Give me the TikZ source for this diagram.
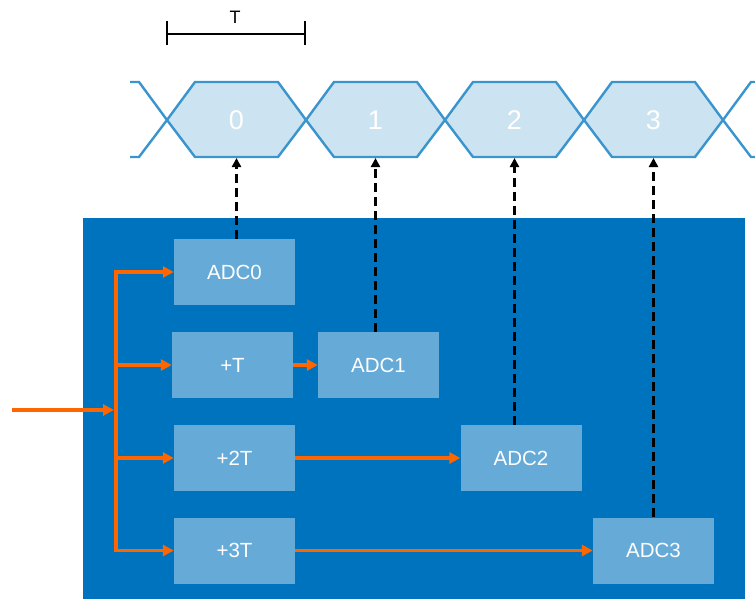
\documentclass[tikz,border=0pt]{standalone}
\usepackage{fontspec}
\setmainfont{Liberation Sans}
\usetikzlibrary{arrows.meta}
\definecolor{bgblue}{RGB}{0,115,190}
\definecolor{boxblue}{RGB}{102,170,216}
\definecolor{hexfill}{RGB}{204,227,241}
\definecolor{hexline}{RGB}{58,148,206}
\definecolor{sig}{RGB}{255,102,0}
\begin{document}
\begin{tikzpicture}[x=1pt,y=-1pt,
 blk/.style={fill=boxblue, draw=none, minimum width=121pt, minimum height=66pt, inner sep=0pt, text=white, font=\fontsize{20.5}{20.5}\selectfont},
 hexlbl/.style={text=white, font=\fontsize{27}{27}\selectfont, inner sep=0pt},
 hexshape/.style={draw=hexline, line width=2.4pt, line join=miter},
 sigline/.style={draw=sig, line width=3.4pt},
 sigarrow/.style={sigline, -{Triangle[length=11pt,width=11pt]}},
 samp/.style={draw=black, line width=2.5pt, dash pattern=on 9pt off 5pt, -{Triangle[length=9pt,width=9pt]}},
 ]
\useasboundingbox (0,0) rectangle (755,599);
\fill[bgblue] (83,218) rectangle (745,599);

% timeline
\begin{scope}
\clip (130,60) rectangle (755,175);
\foreach \c in {97.5,792.5}
  \draw[hexshape] (\c-69.5,120) -- (\c-41.5,82) -- (\c+41.5,82) -- (\c+69.5,120) -- (\c+41.5,157) -- (\c-41.5,157) -- cycle;
\end{scope}
\foreach \c in {236.5,375.5,514.5,653.5}
  \filldraw[hexshape, fill=hexfill] (\c-69.5,120) -- (\c-41.5,82) -- (\c+41.5,82) -- (\c+69.5,120) -- (\c+41.5,157) -- (\c-41.5,157) -- cycle;

\node[hexlbl] (h0) at (236.5,120) {0};
\node[hexlbl] (h1) at (375.5,120) {1};
\node[hexlbl] (h2) at (514.5,120) {2};
\node[hexlbl] (h3) at (653.5,120) {3};
\coordinate (h0b) at (236.5,158);
\coordinate (h1b) at (375.5,158);
\coordinate (h2b) at (514.5,158);
\coordinate (h3b) at (653.5,158);

% period bracket
\coordinate (bl) at (167,34);
\coordinate (br) at (305,34);
\draw[line width=2.6pt] (bl) -- (br);
\draw[line width=2.6pt] ([yshift=-11pt]bl) -- ([yshift=13pt]bl);
\draw[line width=2.6pt] ([yshift=-11pt]br) -- ([yshift=13pt]br);
\node[font=\fontsize{18}{18}\selectfont, inner sep=0pt] (tl) at (235,17) {T};

% blocks
\node[blk] (adc0) at (234.5,272) {ADC0};
\node[blk] (pT)   at (232.5,365) {+T};
\node[blk] (adc1) at (378.5,365) {ADC1};
\node[blk] (p2T)  at (234.5,458) {+2T};
\node[blk] (adc2) at (521,458) {ADC2};
\node[blk] (p3T)  at (234.5,550.5) {+3T};
\node[blk] (adc3) at (653.5,550.5) {ADC3};

% sampling arrows
\draw[samp] (adc0.north -| h0b) -- (h0b);
\draw[samp] (adc1.north -| h1b) -- (h1b);
\draw[samp] (adc2.north -| h2b) -- (h2b);
\draw[samp] (adc3.north -| h3b) -- (h3b);

% signal distribution
\coordinate (in) at (12,410);
\coordinate (j) at (114,410);
\coordinate (t0) at (116,272);
\coordinate (t1) at (116,365);
\coordinate (t2) at (116,458);
\coordinate (t3) at (116,550.5);
\draw[sigarrow] (in) -- (j);
\draw[sigline, line cap=rect] (t0) -- (t3);
\draw[sigarrow] (t0) -- (adc0.west);
\draw[sigarrow] (t1) -- (pT.west);
\draw[sigarrow] (t2) -- (p2T.west);
\draw[sigarrow] (t3) -- (p3T.west);
\draw[sigarrow] (pT.east) -- (adc1.west);
\draw[sigarrow] (p2T.east) -- (adc2.west);
\draw[sigarrow] (p3T.east) -- (adc3.west);
\end{tikzpicture}
\end{document}
